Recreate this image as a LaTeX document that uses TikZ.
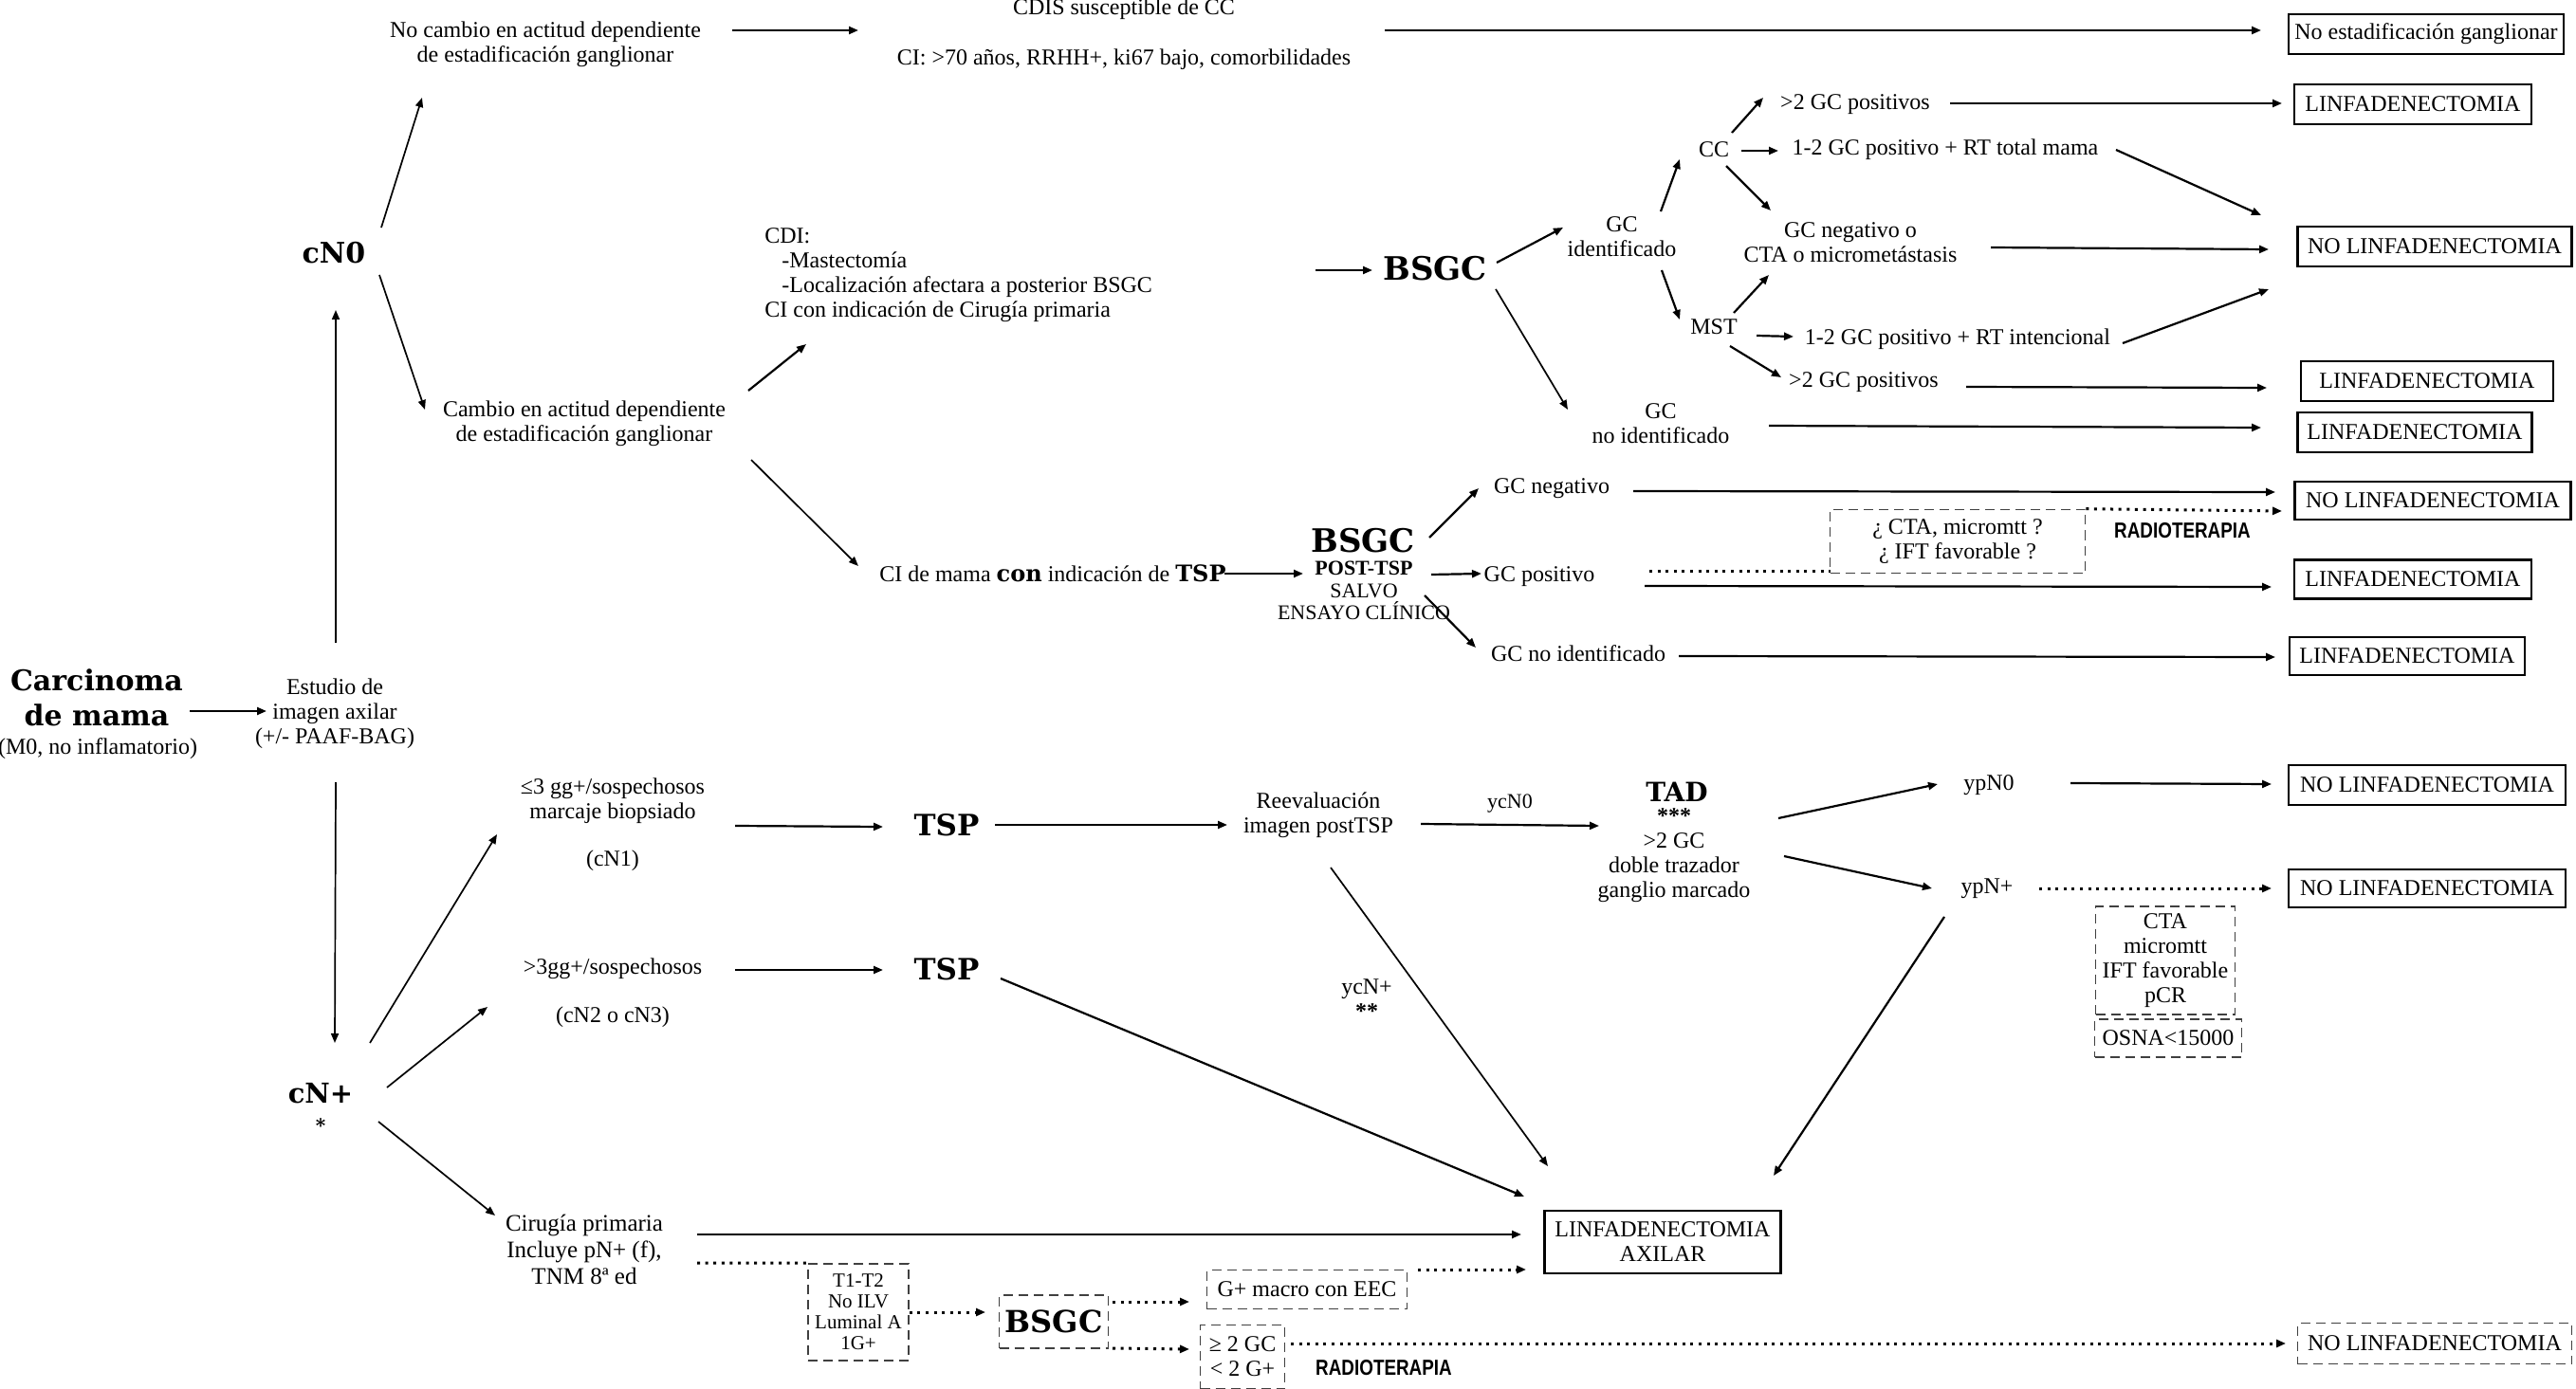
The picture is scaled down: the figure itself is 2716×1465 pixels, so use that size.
\documentclass[tikz,border=0pt]{standalone}
\usepackage{fontspec}
\setmainfont{Liberation Serif}
\newfontfamily\hdfont{DejaVu Serif}
\newfontfamily\radfont{Liberation Sans}[FakeStretch=0.82]
\usetikzlibrary{arrows.meta}

\begin{document}
\begin{tikzpicture}[x=0.5pt,y=-0.5pt]

\tikzset{
  txt/.style     = {align=center, inner sep=1pt, font=\fontsize{12}{13}\selectfont},
  hd/.style      = {align=center, inner sep=1pt, font=\hdfont\bfseries\fontsize{#1}{18.5}\selectfont},
  hd/.default    = 15,
  res/.style     = {txt, draw, line width=1.1pt, inner sep=2pt, minimum height=21pt},
  cond/.style    = {txt, draw=black!75, line width=0.8pt, dash pattern=on 5pt off 3pt,
                    inner sep=2pt, minimum height=20pt},
  rad/.style     = {inner sep=1pt, font=\radfont\bfseries\fontsize{11.5}{13}\selectfont},
  flow/.style    = {-{Triangle[length=5pt,width=4pt]}, line width=1.1pt},
  thinflow/.style= {flow, line width=0.85pt},
  dotline/.style = {line width=1.5pt, dash pattern=on 1.5pt off 2.8pt},
  dotflow/.style = {dotline, -{Triangle[length=5pt,width=4pt]}},
}

\path[use as bounding box, fill=white] (0,0) rectangle (2716,1465);

% entry
\node[hd] (carc) at (102,736) {Carcinoma\\de mama};
\node[txt] (carcnote) at (103,790) {(M0, no inflamatorio)};
\node[txt] (estudio) at (353,753) {Estudio de\\imagen axilar\\(+/- PAAF-BAG)};
\node[hd=15] (cn0) at (352,267) {cN0};
\node[hd=14.5] (cnp) at (338,1168) {cN+\\[-3pt]{\fontsize{10}{10}\selectfont *}};

% cN0 branch
\node[txt] (nocambio) at (575,47) {No cambio en actitud dependiente\\de estadificación ganglionar};
\node[txt] (cambio) at (616,447) {Cambio en actitud dependiente\\de estadificación ganglionar};
\node[txt] (cdis) at (1185,36) {CDIS susceptible de CC\\[13.5pt]CI: >70 años, RRHH+, ki67 bajo, comorbilidades};
\node[res, minimum width=145pt] (noestad) at (2558,36) {No estadificación ganglionar};
\node[txt, align=left, anchor=west, inner sep=0pt] (cdi) at (806,290)
  {CDI:\\\hspace{9pt}-Mastectomía\\\hspace{9pt}-Localización afectara a posterior BSGC\\CI con indicación de Cirugía primaria};
\node[hd=17] (bsgc1) at (1513,283) {BSGC};
\node[txt] (gcid) at (1710,250) {GC\\identificado};
\node[txt] (gcnoid) at (1751,447) {GC\\no identificado};
\node[txt] (cc) at (1807,158) {CC};
\node[txt] (mst) at (1807,345) {MST};
\node[txt] (gt2a) at (1956,110) {>2 GC positivos};
\node[txt] (rt1) at (2051,158) {1-2 GC positivo + RT total mama};
\node[txt] (gcneg) at (1951,256) {GC negativo o\\CTA o micrometástasis};
\node[txt] (rt2) at (2064,358) {1-2 GC positivo + RT intencional};
\node[txt] (gt2b) at (1965,403) {>2 GC positivos};
\node[res, minimum width=125pt] (linf1) at (2544,110) {LINFADENECTOMIA};
\node[res, minimum width=144.5pt] (nolinf1) at (2567,260) {NO LINFADENECTOMIA};
\node[res, minimum width=133pt] (linf2) at (2559,402) {LINFADENECTOMIA};
\node[res, minimum width=123.5pt] (linf3) at (2546,456) {LINFADENECTOMIA};

% TSP with BSGC
\node[txt] (cimama) at (1110,605) {CI de mama {\hdfont\bfseries con} indicación de {\hdfont\bfseries TSP}};
\node[hd=17] (bsgc2) at (1437,570) {BSGC};
\node[txt, font=\fontsize{11}{11.75}\selectfont] (bsgc2note) at (1438,623) {\textbf{POST-TSP}\\SALVO\\ENSAYO CLÍNICO};
\node[txt] (gcneg2) at (1636,515) {GC negativo};
\node[txt] (gcpos) at (1623,608) {GC positivo};
\node[txt] (gcnoid2) at (1664,689) {GC no identificado};
\node[res, minimum width=145.5pt, minimum height=20pt] (nolinf2) at (2565,528) {NO LINFADENECTOMIA};
\node[cond, minimum width=134.5pt, minimum height=33.5pt] (ctaq) at (2064,571) {¿ CTA, micromtt ?\\¿ IFT favorable ?};
\node[rad] (rad1) at (2301,560) {RADIOTERAPIA};
\node[res, minimum width=125pt, minimum height=20.5pt] (linf4) at (2544,611) {LINFADENECTOMIA};
\node[res, minimum width=124pt, minimum height=20pt] (linf5) at (2538,692) {LINFADENECTOMIA};

% cN+ branch
\node[txt] (le3) at (646,845) {≤3 gg+/sospechosos\\marcaje biopsiado};
\node[txt] (le3note) at (646,908) {(cN1)};
\node[txt] (gt3) at (646,1022) {>3gg+/sospechosos};
\node[txt] (gt3note) at (646,1073) {(cN2 o cN3)};
\node[hd=15.5] (tsp1) at (998,870) {TSP};
\node[hd=15.5] (tsp2) at (998,1022) {TSP};
\node[txt] (reeval) at (1390,860) {Reevaluación\\imagen postTSP};
\node[hd=14] (tad) at (1768,835) {TAD};
\node[txt] (tadnote) at (1765,902) {{\bfseries ***}\\>2 GC\\doble trazador\\ganglio marcado};
\node[txt] (ypn0) at (2097,828) {ypN0};
\node[txt] (ypnp) at (2095,937) {ypN+};
\node[res, minimum width=146pt] (nolinf3) at (2559,828) {NO LINFADENECTOMIA};
\node[res, minimum width=146pt, minimum height=20pt] (nolinf4) at (2559,937) {NO LINFADENECTOMIA};
\node[cond, minimum width=73.5pt, minimum height=57pt] (ctabox) at (2283,1013) {CTA\\micromtt\\IFT favorable\\pCR};
\node[cond, minimum width=77.5pt] (osna) at (2286,1095) {OSNA<15000};
\node[txt] (ycnp) at (1441,1054) {ycN+\\{\bfseries **}};
\node[txt, font=\fontsize{12.5}{14}\selectfont] (cir) at (616,1318) {Cirugía primaria\\Incluye pN+ (f),\\TNM 8ª ed};
\node[res, minimum width=124.5pt, minimum height=33pt] (linfax) at (1753,1310) {LINFADENECTOMIA\\AXILAR};
\node[cond, font=\fontsize{10.5}{11}\selectfont, minimum width=53pt, minimum height=51pt] (t1t2) at (905,1384) {T1-T2\\No ILV\\Luminal A\\1G+};
\node[cond, font=\hdfont\bfseries\fontsize{16}{16}\selectfont, minimum width=57.5pt, minimum height=28pt] (bsgc3) at (1111,1394) {BSGC};
\node[cond, minimum width=105.5pt, minimum height=20.5pt] (gmac) at (1378,1360) {G+ macro con EEC};
\node[cond, minimum width=44.5pt, minimum height=33.5pt] (ge2) at (1310,1431) {≥ 2 GC\\< 2 G+};
\node[rad] (rad2) at (1459,1443) {RADIOTERAPIA};
\node[cond, minimum width=144.5pt, minimum height=21.5pt] (nolinf5) at (2567,1417) {NO LINFADENECTOMIA};

% connectors, left part
\draw[flow] ([shift={(98,14)}]carc.center) -- ([shift={(-72,-3)}]estudio.center);
\draw[thinflow] ([shift={(1,-75)}]estudio.center) -- ([shift={(2,60)}]cn0.center);
\draw[thinflow] ([shift={(1,72)}]estudio.center) -- ([shift={(15,-68)}]cnp.center);
\draw[thinflow] ([shift={(50,-27)}]cn0.center) -- ([shift={(-130,56)}]nocambio.center);
\draw[thinflow] ([shift={(48,23)}]cn0.center) -- ([shift={(-168,-15)}]cambio.center);
\draw[flow] ([shift={(197,-15)}]nocambio.center) -- ([shift={(-280,-4)}]cdis.center);
\draw[flow] ([shift={(275,-4)}]cdis.center) -- ([shift={(-174,-4)}]noestad.center);
\draw[flow] ([shift={(173,-35)}]cambio.center) -- ([shift={(44,73)}]cdi.west);
\draw[flow] ([shift={(581,-5)}]cdi.west) -- ([shift={(-66,2)}]bsgc1.center);
\draw[flow] ([shift={(65,-6)}]bsgc1.center) -- ([shift={(-62,-10)}]gcid.center);
\draw[thinflow] ([shift={(64,22)}]bsgc1.center) -- ([shift={(-98,-15)}]gcnoid.center);
\draw[flow] ([shift={(41,-27)}]gcid.center) -- ([shift={(-36,10)}]cc.center);
\draw[flow] ([shift={(42,35)}]gcid.center) -- ([shift={(-36,-8)}]mst.center);
\draw[flow] ([shift={(19,-18)}]cc.center) -- ([shift={(-97,-7)}]gt2a.center);
\draw[flow] ([shift={(29,1)}]cc.center) -- ([shift={(-176,1)}]rt1.center);
\draw[flow] ([shift={(13,17)}]cc.center) -- ([shift={(-84,-34)}]gcneg.center);
\draw[flow] ([shift={(21,-15)}]mst.center) -- ([shift={(-86,34)}]gcneg.center);
\draw[flow] ([shift={(45,9)}]mst.center) -- ([shift={(-173,-3)}]rt2.center);
\draw[flow] ([shift={(17,20)}]mst.center) -- ([shift={(-87,-5)}]gt2b.center);
\draw[flow] ([shift={(100,-1)}]gt2a.center) -- ([shift={(-138,-1)}]linf1.center);
\draw[flow] ([shift={(180,0)}]rt1.center) -- ([shift={(-183,-33)}]nolinf1.center);
\draw[flow] ([shift={(148,5)}]gcneg.center) -- ([shift={(-175,3)}]nolinf1.center);
\draw[flow] ([shift={(174,4)}]rt2.center) -- ([shift={(-175,45)}]nolinf1.center);
\draw[flow] ([shift={(108,5)}]gt2b.center) -- ([shift={(-169,7)}]linf2.center);
\draw[flow] ([shift={(114,2)}]gcnoid.center) -- ([shift={(-162,-5)}]linf3.center);

% connectors, TSP with BSGC
\draw[thinflow] ([shift={(176,38)}]cambio.center) -- ([shift={(-205,-8)}]cimama.center);
\draw[flow] ([shift={(181,0)}]cimama.center) -- ([shift={(-64,-18)}]bsgc2note.center);
\draw[flow] ([shift={(70,-3)}]bsgc2.center) -- ([shift={(-77,0)}]gcneg2.center);
\draw[flow] ([shift={(71,-17)}]bsgc2note.center) -- ([shift={(-61,-3)}]gcpos.center);
\draw[flow] ([shift={(64,5)}]bsgc2note.center) -- ([shift={(-108,-6)}]gcnoid2.center);
\draw[flow] ([shift={(86,3)}]gcneg2.center) -- ([shift={(-166,-9)}]nolinf2.center);
\draw[dotline] ([shift={(116,-6)}]gcpos.center) -- ([shift={(-134,31)}]ctaq.center);
\draw[dotflow] (ctaq.north east) -- ([shift={(-159,11)}]nolinf2.center);
\draw[flow] ([shift={(111,10)}]gcpos.center) -- ([shift={(-149,8)}]linf4.center);
\draw[flow] ([shift={(106,3)}]gcnoid2.center) -- ([shift={(-139,1)}]linf5.center);

% connectors, cN+ branch
\draw[thinflow] ([shift={(52,-68)}]cnp.center) -- ([shift={(-122,35)}]le3.center);
\draw[thinflow] ([shift={(70,-21)}]cnp.center) -- ([shift={(-132,40)}]gt3.center);
\draw[thinflow] ([shift={(61,15)}]cnp.center) -- ([shift={(-94,-36)}]cir.center);
\draw[flow] ([shift={(129,26)}]le3.center) -- ([shift={(-67,2)}]tsp1.center);
\draw[flow] ([shift={(129,1)}]gt3.center) -- ([shift={(-67,1)}]tsp2.center);
\draw[flow] ([shift={(51,0)}]tsp1.center) -- ([shift={(-96,10)}]reeval.center);
\draw[flow] ([shift={(108,9)}]reeval.center) -- ([shift={(-82,36)}]tad.center)
  node[txt, midway, above=5pt, font=\fontsize{11}{12}\selectfont] {ycN0};
\draw[thinflow] ([shift={(13,55)}]reeval.center) -- ([shift={(-121,-80)}]linfax.center);
\draw[flow] ([shift={(57,10)}]tsp2.center) -- ([shift={(-146,-48)}]linfax.center);
\draw[flow] ([shift={(110,-39)}]tadnote.center) -- ([shift={(-54,-1)}]ypn0.center);
\draw[flow] ([shift={(116,1)}]tadnote.center) -- ([shift={(-58,0)}]ypnp.center);
\draw[flow] ([shift={(86,-2)}]ypn0.center) -- ([shift={(-164,-1)}]nolinf3.center);
\draw[dotflow] ([shift={(55,0)}]ypnp.center) -- ([shift={(-164,0)}]nolinf4.center);
\draw[flow] ([shift={(-45,30)}]ypnp.center) -- ([shift={(117,-70)}]linfax.center);
\draw[flow] ([shift={(119,-16)}]cir.center) -- ([shift={(-149,-8)}]linfax.center);
\draw[dotline] ([shift={(119,14)}]cir.center) -- (t1t2.north west);
\draw[dotflow] (t1t2.east) -- ([shift={(-72,-10)}]bsgc3.center);
\draw[dotflow] ([shift={(62,-21)}]bsgc3.center) -- ([shift={(-124,13)}]gmac.center);
\draw[dotflow] ([shift={(62,28)}]bsgc3.center) -- ([shift={(-56,-8)}]ge2.center);
\draw[dotflow] ([shift={(117,-21)}]gmac.center) -- ([shift={(-144,29)}]linfax.center);
\draw[dotflow] ([shift={(51,-14)}]ge2.center) -- ([shift={(-157,0)}]nolinf5.center);

\end{tikzpicture}
\end{document}
